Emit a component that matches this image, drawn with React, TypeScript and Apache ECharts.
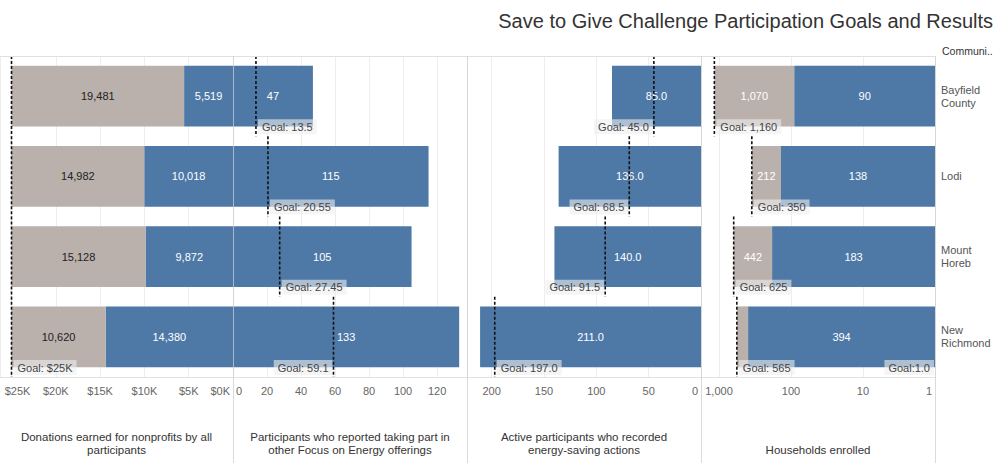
import React, { useEffect, useRef } from "react";
import * as echarts from "echarts";

// ---------- data ----------
const communities = ["Bayfield County", "Lodi", "Mount Horeb", "New Richmond"];

const householdsEnrolled = [90, 138, 183, 394];
const householdsRemaining = [1070, 212, 442, 171];
const householdsGoal = [1160, 350, 625, 565];
const householdsExtraGoal = [1.0]; // stray reference label on the last row

const activeParticipants = [85, 136, 140, 211];
const activeGoal = [45, 68.5, 91.5, 197];

const focusParticipants = [47, 115, 105, 133];
const focusGoal = [13.5, 20.55, 27.45, 59.1];

const donationsEarned = [5519, 10018, 9872, 14380];
const donationsRemaining = [19481, 14982, 15128, 10620];
const donationsGoal = [25000, 25000, 25000, 25000];

const axisTitles = [
  "Donations earned for nonprofits by all\nparticipants",
  "Participants who reported taking part in\nother Focus on Energy offerings",
  "Active participants who recorded\nenergy-saving actions",
  "Households enrolled",
];

const TITLE = "Save to Give Challenge Participation Goals and Results";

// ---------- style ----------
const BLUE = "#4e79a7";
const GRAY = "#bab0ac";
const FONT = '"Liberation Sans", Arial, sans-serif';
const BAR_FRACTION = 0.76;

const fmtInt = (v: number) => Math.round(v).toLocaleString("en-US");

function goalSeries(
  axisIdx: number,
  goals: number[],
  labels: string[],
  sides: string[],
  drawLine: boolean,
  rows?: number[]
) {
  return {
    type: "custom",
    xAxisIndex: axisIdx,
    yAxisIndex: axisIdx,
    z: 6,
    silent: true,
    data: goals.map((g, i) => [g, rows ? rows[i] : i]),
    renderItem: (params: any, api: any) => {
      const i = params.dataIndex;
      const p = api.coord([api.value(0), api.value(1)]);
      const band = api.size([0, 1])[1];
      const top = p[1] - band / 2;
      const bottom = p[1] + band / 2;
      const children: any[] = [];
      if (labels[i]) {
        const left = sides[i] === "left";
        children.push({
          type: "text",
          x: left ? p[0] - 1 : p[0] + 2,
          y: bottom - 9.5,
          style: {
            text: labels[i],
            align: left ? "right" : "left",
            verticalAlign: "middle",
            fill: "#444",
            font: `11px ${FONT}`,
            backgroundColor: "rgba(238,238,238,0.6)",
            padding: [2, 4, 2, 4],
          },
        });
      }
      if (drawLine) {
        children.push({
          type: "line",
          shape: { x1: p[0], y1: top, x2: p[0], y2: bottom },
          style: { stroke: "#111", lineWidth: 1.6, lineDash: [3, 2] },
        });
      }
      return { type: "group", children };
    },
  };
}

export default function App() {
  const ref = useRef<HTMLDivElement>(null);

  useEffect(() => {
    if (!ref.current) return;
    const chart = echarts.init(ref.current, null, { renderer: "svg" });

    const gridTop = 56;
    const gridHeight = 321;
    const panels = [
      { left: 0, width: 233 },
      { left: 233, width: 234 },
      { left: 467, width: 234 },
      { left: 701, width: 234 },
    ];

    const edgeRich = {
      padL: { padding: [0, 0, 0, 3] },
      padR: { padding: [0, 3, 0, 0] },
      padEdge: { padding: [0, 0, 0, 12] },
    };

    const axisLabelBase = {
      fontSize: 11,
      color: "#666",
      margin: 8,
      fontFamily: FONT,
      showMaxLabel: false,
      hideOverlap: false,
    };
    const splitLine = { show: true, lineStyle: { color: "#eeeeee", width: 1 } };
    const axisLine = { show: true, lineStyle: { color: "#e2e2e2" } };
    const nameBase = {
      nameLocation: "middle",
      nameGap: 79,
      nameTextStyle: {
        fontSize: 11.5,
        color: "#333",
        lineHeight: 13,
        verticalAlign: "bottom",
        fontFamily: FONT,
      },
    };

    const xAxis: any[] = [
      {
        gridIndex: 0,
        type: "value",
        inverse: true,
        min: 0,
        max: 26300,
        interval: 5000,
        name: axisTitles[0],
        ...nameBase,
        axisLine,
        axisTick: { show: false },
        splitLine,
        axisLabel: {
          ...axisLabelBase,
          alignMinLabel: "right",
          rich: edgeRich,
          formatter: (v: number) => {
            const t = `$${Math.round(v / 1000)}K`;
            if (v === 0) return `{padR|${t}}`;
            if (v >= 25000) return `{padEdge|${t}}`;
            return t;
          },
        },
      },
      {
        gridIndex: 1,
        type: "value",
        min: 0,
        max: 137.6,
        interval: 20,
        name: axisTitles[1],
        ...nameBase,
        axisLine,
        axisTick: { show: false },
        splitLine,
        axisLabel: {
          ...axisLabelBase,
          alignMinLabel: "left",
          rich: edgeRich,
          formatter: (v: number) => (v === 0 ? `{padL|0}` : String(v)),
        },
      },
      {
        gridIndex: 2,
        type: "value",
        inverse: true,
        min: 0,
        max: 223.5,
        interval: 50,
        name: axisTitles[2],
        ...nameBase,
        axisLine,
        axisTick: { show: false },
        splitLine,
        axisLabel: {
          ...axisLabelBase,
          alignMinLabel: "right",
          rich: edgeRich,
          formatter: (v: number) => (v === 0 ? `{padR|0}` : String(v)),
        },
      },
      {
        gridIndex: 3,
        type: "log",
        logBase: 10,
        inverse: true,
        min: 1,
        max: 1778,
        name: axisTitles[3],
        ...nameBase,
        axisLine,
        axisTick: { show: false },
        splitLine,
        axisLabel: {
          ...axisLabelBase,
          alignMinLabel: "right",
          rich: edgeRich,
          formatter: (v: number) => (v === 1 ? `{padR|1}` : fmtInt(v)),
        },
      },
    ];

    const yAxis: any[] = panels.map((_, i) => ({
      gridIndex: i,
      type: "category",
      data: communities,
      inverse: true,
      show: i === 3,
      position: "right",
      axisLine: { show: false },
      axisTick: { show: false },
      splitLine: { show: false },
      axisLabel: {
        show: i === 3,
        align: "left",
        margin: 6,
        fontSize: 11,
        lineHeight: 13,
        color: "#555",
        fontFamily: FONT,
        formatter: (v: string) => v.replace(" ", "\n"),
      },
    }));

    const barLabel = (color: string, fmt: (v: number) => string) => ({
      show: true,
      position: "inside",
      color,
      fontSize: 11,
      fontFamily: FONT,
      formatter: (p: any) => fmt(p.value),
    });

    const series: any[] = [
      // Donations (stacked)
      {
        type: "bar",
        xAxisIndex: 0,
        yAxisIndex: 0,
        stack: "don",
        data: donationsEarned,
        barCategoryGap: "24%",
        itemStyle: { color: BLUE },
        label: barLabel("#fff", fmtInt),
      },
      {
        type: "bar",
        xAxisIndex: 0,
        yAxisIndex: 0,
        stack: "don",
        data: donationsRemaining,
        barCategoryGap: "24%",
        itemStyle: { color: GRAY },
        label: barLabel("#222", fmtInt),
      },
      // Focus on Energy participants
      {
        type: "bar",
        xAxisIndex: 1,
        yAxisIndex: 1,
        data: focusParticipants,
        barCategoryGap: "24%",
        itemStyle: { color: BLUE },
        label: barLabel("#fff", fmtInt),
      },
      // Active participants
      {
        type: "bar",
        xAxisIndex: 2,
        yAxisIndex: 2,
        data: activeParticipants,
        barCategoryGap: "24%",
        itemStyle: { color: BLUE },
        label: barLabel("#fff", (v) => v.toFixed(1)),
      },
      // Households enrolled (log)
      {
        type: "bar",
        xAxisIndex: 3,
        yAxisIndex: 3,
        data: householdsEnrolled,
        barCategoryGap: "24%",
        itemStyle: { color: BLUE },
        label: barLabel("#fff", fmtInt),
      },
      // Households remaining to goal: segment from enrolled to enrolled+remaining
      {
        type: "custom",
        xAxisIndex: 3,
        yAxisIndex: 3,
        z: 2,
        silent: true,
        data: householdsEnrolled.map((e, i) => [e, e + householdsRemaining[i], i]),
        renderItem: (params: any, api: any) => {
          const i = params.dataIndex;
          const a = api.coord([api.value(0), api.value(2)]);
          const b = api.coord([api.value(1), api.value(2)]);
          const h = api.size([0, 1])[1] * BAR_FRACTION;
          const x = Math.min(a[0], b[0]);
          const w = Math.abs(a[0] - b[0]);
          const showText = w > 18;
          return {
            type: "group",
            children: [
              {
                type: "rect",
                shape: { x, y: a[1] - h / 2, width: w, height: h },
                style: { fill: GRAY },
              },
              {
                type: "text",
                x: x + w / 2,
                y: a[1],
                style: {
                  text: showText ? fmtInt(householdsRemaining[i]) : "",
                  align: "center",
                  verticalAlign: "middle",
                  fill: "#fff",
                  font: `11px ${FONT}`,
                },
              },
            ],
          };
        },
      },
      goalSeries(
        0,
        donationsGoal,
        ["", "", "", "Goal: $25K"],
        ["right", "right", "right", "right"],
        true
      ),
      goalSeries(
        1,
        focusGoal,
        focusGoal.map((g) => `Goal: ${g}`),
        ["right", "right", "right", "left"],
        true
      ),
      goalSeries(
        2,
        activeGoal,
        activeGoal.map((g) => `Goal: ${g.toFixed(1)}`),
        ["left", "left", "left", "right"],
        true
      ),
      goalSeries(
        3,
        householdsGoal,
        householdsGoal.map((g) => `Goal: ${fmtInt(g)}`),
        ["right", "right", "right", "right"],
        true
      ),
      goalSeries(
        3,
        householdsExtraGoal,
        householdsExtraGoal.map((g) => `Goal:${g.toFixed(1)}`),
        ["left"],
        false,
        [3]
      ),
    ];

    const dividers = [233, 467, 701, 935].map((x) => ({
      type: "line",
      z: 100,
      silent: true,
      shape: { x1: x + 0.5, y1: gridTop, x2: x + 0.5, y2: 463 },
      style: { stroke: "rgba(205,205,205,0.75)", lineWidth: 1 },
    }));

    chart.setOption({
      animation: false,
      textStyle: { fontFamily: FONT },
      title: {
        text: TITLE,
        right: 2,
        top: 6,
        textStyle: {
          fontSize: 20,
          fontWeight: "normal",
          color: "#333",
          fontFamily: FONT,
        },
      },
      grid: panels.map((p) => ({
        left: p.left,
        width: p.width,
        top: gridTop,
        height: gridHeight,
        containLabel: false,
        outerBoundsMode: "none",
      })),
      xAxis,
      yAxis,
      series,
      graphic: [
        {
          type: "line",
          z: 100,
          silent: true,
          shape: { x1: 0, y1: gridTop + 0.5, x2: 935, y2: gridTop + 0.5 },
          style: { stroke: "#e0e0e0", lineWidth: 1 },
        },
        ...dividers,
        {
          type: "text",
          left: 942,
          top: 45,
          silent: true,
          style: {
            text: "Communi..",
            fill: "#333",
            font: `10.5px ${FONT}`,
          },
        },
      ],
    });

    return () => chart.dispose();
  }, []);

  return (
    <div
      ref={ref}
      style={{ position: "absolute", left: 0, top: 0, width: 1000, height: 463 }}
    />
  );
}
